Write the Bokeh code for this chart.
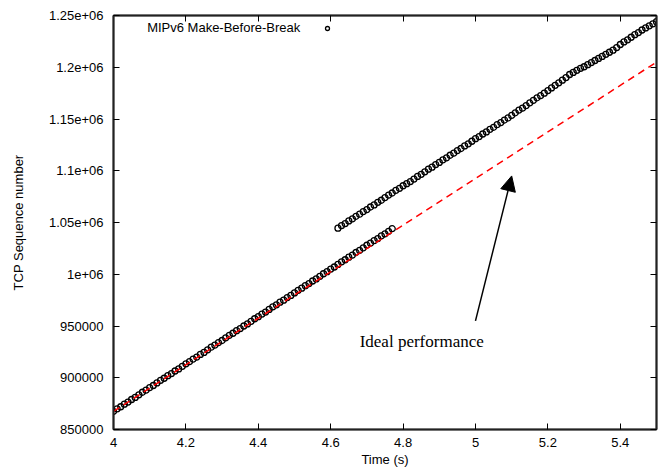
from bokeh.plotting import figure
from bokeh.models import (Range1d, LinearAxis, FixedTicker, Arrow, NormalHead,
                          Label, Legend, LegendItem)
from bokeh.embed import file_html
from bokeh.resources import INLINE

# ---------------- data ----------------
series_name = "MIPv6 Make-Before-Break"

seg1_time = [4.00, 4.01, 4.02, 4.03, 4.04, 4.05, 4.06, 4.07, 4.08, 4.09,
             4.10, 4.11, 4.12, 4.13, 4.14, 4.15, 4.16, 4.17, 4.18, 4.19,
             4.20, 4.21, 4.22, 4.23, 4.24, 4.25, 4.26, 4.27, 4.28, 4.29,
             4.30, 4.31, 4.32, 4.33, 4.34, 4.35, 4.36, 4.37, 4.38, 4.39,
             4.40, 4.41, 4.42, 4.43, 4.44, 4.45, 4.46, 4.47, 4.48, 4.49,
             4.50, 4.51, 4.52, 4.53, 4.54, 4.55, 4.56, 4.57, 4.58, 4.59,
             4.60, 4.61, 4.62, 4.63, 4.64, 4.65, 4.66, 4.67, 4.68, 4.69,
             4.70, 4.71, 4.72, 4.73, 4.74, 4.75, 4.76, 4.77]
seg1_seq = [867500, 870000, 872000, 874500, 876500, 879000, 881000, 883500, 886000, 888000,
            890500, 892500, 895000, 897500, 899500, 902000, 904000, 906500, 908500, 911000,
            913500, 915500, 918000, 920000, 922500, 924500, 927000, 929500, 931500, 934000,
            936000, 938500, 941000, 943000, 945500, 947500, 950000, 952000, 954500, 957000,
            959000, 961500, 963500, 966000, 968500, 970500, 973000, 975000, 977500, 979500,
            982000, 984500, 986500, 989000, 991000, 993500, 995500, 998000, 1000500, 1002500,
            1005000, 1007000, 1009500, 1012000, 1014000, 1016500, 1018500, 1021000, 1023000, 1025500,
            1028000, 1030000, 1032500, 1034500, 1037000, 1039000, 1041500, 1044000]

seg2_time = [4.62, 4.63, 4.64, 4.65, 4.66, 4.67, 4.68, 4.69, 4.70, 4.71,
             4.72, 4.73, 4.74, 4.75, 4.76, 4.77, 4.78, 4.79, 4.80, 4.81,
             4.82, 4.83, 4.84, 4.85, 4.86, 4.87, 4.88, 4.89, 4.90, 4.91,
             4.92, 4.93, 4.94, 4.95, 4.96, 4.97, 4.98, 4.99, 5.00, 5.01,
             5.02, 5.03, 5.04, 5.05, 5.06, 5.07, 5.08, 5.09, 5.10, 5.11,
             5.12, 5.13, 5.14, 5.15, 5.16, 5.17, 5.18, 5.19, 5.20, 5.21,
             5.22, 5.23, 5.24, 5.25, 5.26, 5.27, 5.28, 5.29, 5.30, 5.31,
             5.32, 5.33, 5.34, 5.35, 5.36, 5.37, 5.38, 5.39, 5.40, 5.41,
             5.42, 5.43, 5.44, 5.45, 5.46, 5.47, 5.48, 5.49, 5.50]
seg2_seq = [1044500, 1047000, 1049000, 1051500, 1053500, 1056000, 1058000, 1060500, 1062500, 1065000,
            1067000, 1069500, 1071500, 1074000, 1076500, 1078500, 1081000, 1083000, 1085500, 1087500,
            1089500, 1092000, 1094500, 1096500, 1099000, 1101500, 1103500, 1106000, 1108000, 1110500,
            1112500, 1115000, 1117000, 1119500, 1121500, 1124000, 1126000, 1128500, 1131000, 1133000,
            1135500, 1137500, 1140000, 1142000, 1144500, 1146500, 1149000, 1151000, 1153500, 1156000,
            1158500, 1160500, 1163000, 1165500, 1168000, 1170500, 1172500, 1175000, 1177500, 1180000,
            1182500, 1185000, 1187500, 1190000, 1193000, 1195000, 1197000, 1199000, 1200500, 1202500,
            1204500, 1206500, 1208500, 1210500, 1212500, 1214500, 1216500, 1219000, 1222000, 1224500,
            1226500, 1229000, 1231500, 1233500, 1236000, 1238000, 1240000, 1242000, 1244000]

ideal_time = [4.0, 5.5]
ideal_seq = [867500, 1205000]

x_ticks = [4.0, 4.2, 4.4, 4.6, 4.8, 5.0, 5.2, 5.4]
x_tick_labels = ["4", "4.2", "4.4", "4.6", "4.8", "5", "5.2", "5.4"]
y_ticks = [850000, 900000, 950000, 1000000, 1050000, 1100000, 1150000, 1200000, 1250000]
y_tick_labels = ["850000", "900000", "950000", "1e+06", "1.05e+06", "1.1e+06",
                 "1.15e+06", "1.2e+06", "1.25e+06"]

annotation_text = "Ideal performance"
annotation_at = (4.68, 935000)
arrow_from = (5.0, 955000)
arrow_to = (5.1, 1095000)
key_text_at = (4.516, 1238000)

# ---------------- figure ----------------
SANS = "Liberation Sans"
AXIS_COLOR = "#222222"

p = figure(frame_width=543, frame_height=414,
           x_range=Range1d(4.0, 5.5), y_range=Range1d(850000, 1250000),
           output_backend="svg", toolbar_location=None,
           min_border_left=113, min_border_right=4, min_border_top=15, min_border_bottom=10,
           x_axis_label="Time (s)", y_axis_label="TCP Sequence number")
p.xgrid.visible = False
p.ygrid.visible = False
p.outline_line_color = AXIS_COLOR
p.outline_line_width = 1.5
p.background_fill_color = "white"
p.border_fill_color = "white"

xax = p.xaxis[0]
yax = p.yaxis[0]
xax.ticker = FixedTicker(ticks=x_ticks)
yax.ticker = FixedTicker(ticks=y_ticks)
xax.major_label_overrides = dict(zip(x_ticks, x_tick_labels))
yax.major_label_overrides = {float(t): l for t, l in zip(y_ticks, y_tick_labels)}

for ax in (xax, yax):
    ax.axis_line_color = AXIS_COLOR
    ax.axis_line_width = 2
    ax.major_tick_in = 6
    ax.major_tick_out = 0
    ax.major_tick_line_color = "black"
    ax.major_tick_line_width = 1
    ax.minor_tick_line_color = None
    ax.major_label_text_font = SANS
    ax.major_label_text_font_size = "13px"
    ax.major_label_text_color = "black"
    ax.axis_label_text_font = SANS
    ax.axis_label_text_font_size = "13px"
    ax.axis_label_text_font_style = "normal"
    ax.axis_label_text_color = "black"

xax.major_label_standoff = 8
xax.axis_label_standoff = 2
yax.major_label_standoff = 10
yax.axis_label_standoff = 20

# mirror axes (ticks only, labels not drawn)
top = LinearAxis(ticker=FixedTicker(ticks=x_ticks))
right = LinearAxis(ticker=FixedTicker(ticks=y_ticks))
for ax in (top, right):
    ax.axis_line_color = AXIS_COLOR
    ax.axis_line_width = 2
    ax.major_tick_in = 6
    ax.major_tick_out = 0
    ax.major_tick_line_color = "black"
    ax.minor_tick_line_color = None
    ax.major_label_text_font_size = "1px"
    ax.major_label_text_color = None
    ax.major_label_standoff = 0
p.add_layout(top, "above")
p.add_layout(right, "right")

# data points
r = p.scatter(seg1_time + seg2_time, seg1_seq + seg2_seq, marker="circle", size=6,
              fill_color=None, line_color="black", line_width=1.3)

# ideal performance line
p.line(ideal_time, ideal_seq, line_color="#ff0000", line_width=1.5, line_dash="7 5")

# arrow + annotation
p.add_layout(Arrow(end=NormalHead(size=15, fill_color="black", line_color="black"),
                   x_start=arrow_from[0], y_start=arrow_from[1],
                   x_end=arrow_to[0], y_end=arrow_to[1],
                   line_color="black", line_width=1.5))
p.add_layout(Label(x=annotation_at[0], y=annotation_at[1], text=annotation_text,
                   text_font="Liberation Serif", text_font_size="17px",
                   text_baseline="middle", text_align="left", text_color="black"))

# gnuplot-style key: text to the left of the symbol
legend = Legend(items=[LegendItem(label=series_name, renderers=[r])],
                location=(209, 393), padding=0, margin=0, spacing=0,
                glyph_width=10, glyph_height=16, label_height=16,
                label_text_font=SANS, label_text_font_size="13px",
                label_text_color=None,
                border_line_color=None, background_fill_alpha=0)
p.add_layout(legend)
p.add_layout(Label(x=key_text_at[0], y=key_text_at[1], text=series_name,
                   text_font=SANS, text_font_size="13px", text_color="black",
                   text_align="right", text_baseline="middle"))

open("out.html", "w").write(file_html(p, INLINE))
